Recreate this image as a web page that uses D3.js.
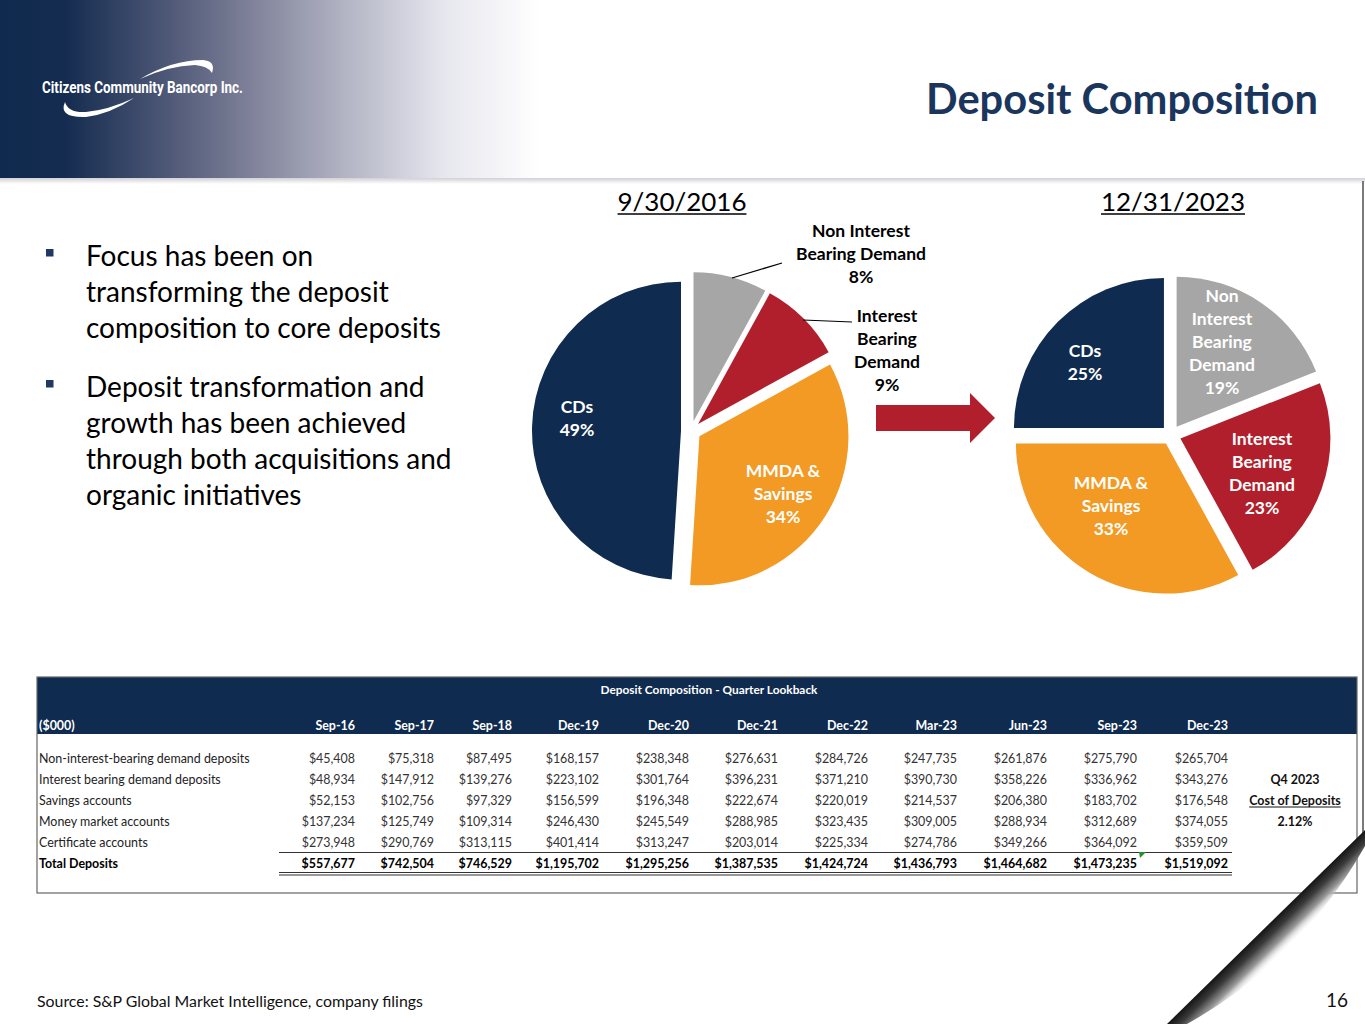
<!DOCTYPE html>
<html><head><meta charset="utf-8">
<script src="https://cdn.jsdelivr.net/npm/d3@7"></script>
<style>html,body{margin:0;padding:0;background:#fff;}svg{display:block;}</style>
</head><body>
<svg id="c" width="1365" height="1024"></svg>
<script>
// ---------- DATA ----------
const periods = ["Sep-16","Sep-17","Sep-18","Dec-19","Dec-20","Dec-21","Dec-22","Mar-23","Jun-23","Sep-23","Dec-23"];
const rowLabels = ["Non-interest-bearing demand deposits","Interest bearing demand deposits","Savings accounts","Money market accounts","Certificate accounts","Total Deposits"];
const nonInterest = [45408,75318,87495,168157,238348,276631,284726,247735,261876,275790,265704];
const interestBearing = [48934,147912,139276,223102,301764,396231,371210,390730,358226,336962,343276];
const savings = [52153,102756,97329,156599,196348,222674,220019,214537,206380,183702,176548];
const moneyMarket = [137234,125749,109314,246430,245549,288985,323435,309005,288934,312689,374055];
const certificates = [273948,290769,313115,401414,313247,203014,225334,274786,349266,364092,359509];
const totals = [557677,742504,746529,1195702,1295256,1387535,1424724,1436793,1464682,1473235,1519092];
const pieCategories = ["Non Interest Bearing Demand","Interest Bearing Demand","MMDA & Savings","CDs"];
const pie2016 = [8,9,34,49];
const pie2023 = [19,23,33,25];
const costOfDeposits = "2.12%";

// ---------- LAYOUT ----------
const FONT = "Lato, 'Open Sans', sans-serif";
const NAVY = "#0f2b4f", RED = "#b01f2b", ORANGE = "#f29a24", GRAY = "#a6a6a6";
const pieColors = [GRAY, RED, ORANGE, NAVY];
const svg = d3.select("#c");
const defs = svg.append("defs");

function fitSize(str, weight, target, family) {
  const t = svg.append("text").attr("font-family", family || FONT).attr("font-weight", weight)
    .attr("font-size", 100).text(str);
  const w = t.node().getComputedTextLength(); t.remove();
  return 100 * target / w;
}

// header gradient
const hg = defs.append("linearGradient").attr("id","hg").attr("x1",0).attr("x2",1).attr("y1",0).attr("y2",0);
[[0,"#0f2a4e"],[0.12,"#142c50"],[0.3,"#4b5574"],[0.46,"#7d8098"],[0.64,"#b3b4c4"],[0.82,"#e6e6ee"],[1,"#ffffff"]]
  .forEach(s=>hg.append("stop").attr("offset",s[0]).attr("stop-color",s[1]));
svg.append("rect").attr("x",0).attr("y",0).attr("width",540).attr("height",179).attr("fill","url(#hg)");
const sg = defs.append("linearGradient").attr("id","sg").attr("x1",0).attr("x2",0).attr("y1",0).attr("y2",1);
sg.append("stop").attr("offset",0).attr("stop-color","#d0d0d6");
sg.append("stop").attr("offset",1).attr("stop-color","#ffffff");
svg.append("rect").attr("x",0).attr("y",178).attr("width",1365).attr("height",6).attr("fill","url(#sg)");
// right page border
svg.append("line").attr("x1",1363).attr("x2",1363).attr("y1",181).attr("y2",836).attr("stroke","#7a7a7a").attr("stroke-width",2);

// logo
const logo = svg.append("g");
logo.append("path").attr("fill","#fff")
  .attr("d","M140,79 Q172,60 203,60 Q216,61 212,73 Q208,66 195,65 Q168,66 140,79 Z");
logo.append("path").attr("fill","#fff")
  .attr("d","M65,102 Q58,118 86,117 Q110,114 134,98 Q108,110 86,112 Q68,113 65,102 Z");
logo.append("text").attr("x",42).attr("y",93).attr("fill","#fff").attr("font-family","Roboto, sans-serif")
  .attr("font-weight",700).attr("font-size",16).attr("textLength",201).attr("lengthAdjust","spacingAndGlyphs")
  .text("Citizens Community Bancorp Inc.");

// title
svg.append("text").attr("x",1318).attr("y",114).attr("text-anchor","end").attr("fill","#1b365d")
  .attr("font-family",FONT).attr("font-weight",700)
  .attr("font-size",fitSize("Deposit Composition",700,392)).text("Deposit Composition");

// bullets
const bSize = fitSize("composition to core deposits",400,355);
const bullets = [
  {y:266, lines:["Focus has been on","transforming the deposit","composition to core deposits"]},
  {y:397, lines:["Deposit transformation and","growth has been achieved","through both acquisitions and","organic initiatives"]}
];
bullets.forEach(b=>{
  svg.append("rect").attr("x",46).attr("y",b.y-17).attr("width",7.5).attr("height",7.5).attr("fill","#1f3864");
  const t = svg.append("text").attr("font-family",FONT).attr("font-size",bSize).attr("fill","#000");
  b.lines.forEach((l,i)=>t.append("tspan").attr("x",86).attr("y",b.y+i*36).text(l));
});

// ---------- PIES ----------
const pieGen = d3.pie().sort(null).value(d=>d);
const lblSize = fitSize("Bearing Demand",700,130);
const dateSize = fitSize("9/30/2016",400,129);

function drawPie(values, cx, cy, r, explode, date, dateX, labels) {
  const arc = d3.arc().innerRadius(0).outerRadius(r);
  const g = svg.append("g").attr("transform",`translate(${cx},${cy})`);
  g.selectAll("path").data(pieGen(values)).join("path")
    .attr("d",arc).attr("fill",(d,i)=>pieColors[i])
    .attr("transform",d=>{const a=(d.startAngle+d.endAngle)/2; return `translate(${Math.sin(a)*explode},${-Math.cos(a)*explode})`;});
  const dt = svg.append("text").attr("x",dateX).attr("y",211).attr("text-anchor","middle")
    .attr("font-family",FONT).attr("font-size",dateSize).attr("fill","#000").text(date);
  const w = dt.node().getComputedTextLength();
  svg.append("line").attr("x1",dateX-w/2).attr("x2",dateX+w/2).attr("y1",214).attr("y2",214).attr("stroke","#000").attr("stroke-width",1.5);
  labels.forEach((L,i)=>{
    const t = svg.append("text").attr("text-anchor","middle").attr("font-family",FONT).attr("font-weight",700)
      .attr("font-size",lblSize).attr("fill",L.color);
    const lines = L.lines.concat([values[i]+"%"]);
    lines.forEach((l,k)=>t.append("tspan").attr("x",L.x).attr("y",L.y+k*23).attr("dy","0.35em").text(l));
  });
}

drawPie(pie2016, 691, 431, 149, 10, "9/30/2016", 682, [
  {x:861, y:231, color:"#000", lines:["Non Interest","Bearing Demand"]},
  {x:887, y:316, color:"#000", lines:["Interest","Bearing","Demand"]},
  {x:783, y:471, color:"#fff", lines:["MMDA &","Savings"]},
  {x:577, y:407, color:"#fff", lines:["CDs"]}
]);
svg.append("line").attr("x1",732).attr("y1",278).attr("x2",782).attr("y2",263).attr("stroke","#000").attr("stroke-width",1.2);
svg.append("polyline").attr("points","803,320 852,322").attr("fill","none").attr("stroke","#000").attr("stroke-width",1.2);

drawPie(pie2023, 1171, 435, 150, 10, "12/31/2023", 1173, [
  {x:1222, y:296, color:"#fff", lines:["Non","Interest","Bearing","Demand"]},
  {x:1262, y:439, color:"#fff", lines:["Interest","Bearing","Demand"]},
  {x:1111, y:483, color:"#fff", lines:["MMDA &","Savings"]},
  {x:1085, y:351, color:"#fff", lines:["CDs"]}
]);

// arrow
svg.append("path").attr("fill",RED)
  .attr("d","M876,405 L970,405 L970,393 L995,418 L970,443 L970,431 L876,431 Z");

// ---------- TABLE ----------
const tSize = fitSize("Non-interest-bearing demand deposits",400,211);
const colRight = [355,434,512,599,689,778,868,957,1047,1137,1228];
const rowY = [759,780,801,822,843,864];
const tx = 37, ty = 677, tw = 1320, th = 216;
svg.append("rect").attr("x",tx).attr("y",ty).attr("width",tw).attr("height",th).attr("fill","#fff");
svg.append("rect").attr("x",tx).attr("y",ty).attr("width",tw).attr("height",57).attr("fill","#0f2b4f");
svg.append("text").attr("x",709).attr("y",690).attr("dy","0.35em").attr("text-anchor","middle")
  .attr("font-family",FONT).attr("font-weight",700).attr("fill","#fff")
  .attr("font-size",fitSize("Deposit Composition - Quarter Lookback",700,217)).text("Deposit Composition - Quarter Lookback");
svg.append("text").attr("x",39).attr("y",726).attr("dy","0.35em").attr("font-family",FONT).attr("font-weight",700)
  .attr("fill","#fff").attr("font-size",tSize).text("($000)");
svg.selectAll("text.ph").data(periods).join("text").attr("class","ph")
  .attr("x",(d,i)=>colRight[i]).attr("y",726).attr("dy","0.35em").attr("text-anchor","end")
  .attr("font-family",FONT).attr("font-weight",700).attr("fill","#fff").attr("font-size",tSize).text(d=>d);

const fmt = d3.format("$,");
const rows = [nonInterest, interestBearing, savings, moneyMarket, certificates, totals];
rows.forEach((vals,r)=>{
  const bold = r===5;
  svg.append("text").attr("x",39).attr("y",rowY[r]).attr("dy","0.35em").attr("font-family",FONT)
    .attr("font-weight",bold?700:400).attr("fill",bold?"#000":"#222").attr("font-size",tSize).text(rowLabels[r]);
  svg.selectAll(null).data(vals).join("text")
    .attr("x",(d,i)=>colRight[i]).attr("y",rowY[r]).attr("dy","0.35em").attr("text-anchor","end")
    .attr("font-family",FONT).attr("font-weight",bold?700:400).attr("fill",bold?"#000":"#333")
    .attr("font-size",tSize).text(d=>fmt(d));
});
svg.append("line").attr("x1",279).attr("x2",1232).attr("y1",852.5).attr("y2",852.5).attr("stroke","#333").attr("stroke-width",1.2);
svg.append("line").attr("x1",279).attr("x2",1232).attr("y1",872.5).attr("y2",872.5).attr("stroke","#333").attr("stroke-width",1.2);
svg.append("line").attr("x1",279).attr("x2",1232).attr("y1",875).attr("y2",875).attr("stroke","#333").attr("stroke-width",1.2);
svg.append("path").attr("d","M1139,852 L1146,852 L1140,858 Z").attr("fill","#2e8b2e");
const cTxt = [["Q4 2023",780],["Cost of Deposits",801],[costOfDeposits,822]];
cTxt.forEach((c,i)=>{
  const t = svg.append("text").attr("x",1295).attr("y",c[1]).attr("dy","0.35em").attr("text-anchor","middle")
    .attr("font-family",FONT).attr("font-weight",700).attr("fill","#111").attr("font-size",tSize).text(c[0]);
  if(i===1){const w=t.node().getComputedTextLength();
    svg.append("line").attr("x1",1295-w/2).attr("x2",1295+w/2).attr("y1",807).attr("y2",807).attr("stroke","#111").attr("stroke-width",1);}
});
// table border
svg.append("rect").attr("x",tx).attr("y",ty).attr("width",tw).attr("height",th).attr("fill","none").attr("stroke","#666").attr("stroke-width",1.2);

// page curl shadow
const A=[1167,1024], B=[1365,830];
const nx=0.7, ny=0.714;
const mid=[(A[0]+B[0])/2,(A[1]+B[1])/2];
const cg = defs.append("linearGradient").attr("id","cg").attr("gradientUnits","userSpaceOnUse")
  .attr("x1",mid[0]).attr("y1",mid[1]).attr("x2",mid[0]+nx*30).attr("y2",mid[1]+ny*30);
cg.append("stop").attr("offset",0).attr("stop-color","#151515");
cg.append("stop").attr("offset",0.3).attr("stop-color","#3a3a3a");
cg.append("stop").attr("offset",0.65).attr("stop-color","#9a9a9a");
cg.append("stop").attr("offset",1).attr("stop-color","#ffffff").attr("stop-opacity",0);
svg.append("path").attr("fill","url(#cg)")
  .attr("d",`M${A[0]},${A[1]} L${B[0]},${B[1]} L${B[0]},${B[1]+16} Q${mid[0]+nx*48},${mid[1]+ny*48} ${A[0]+20},${A[1]} Z`);

// footer
svg.append("text").attr("x",37).attr("y",1007).attr("font-family",FONT).attr("fill","#111")
  .attr("font-size",fitSize("Source: S&P Global Market Intelligence, company filings",400,386))
  .text("Source: S&P Global Market Intelligence, company filings");
svg.append("text").attr("x",1348).attr("y",1007).attr("text-anchor","end").attr("font-family",FONT).attr("fill","#111")
  .attr("font-size",19).text("16");
</script>
</body></html>
